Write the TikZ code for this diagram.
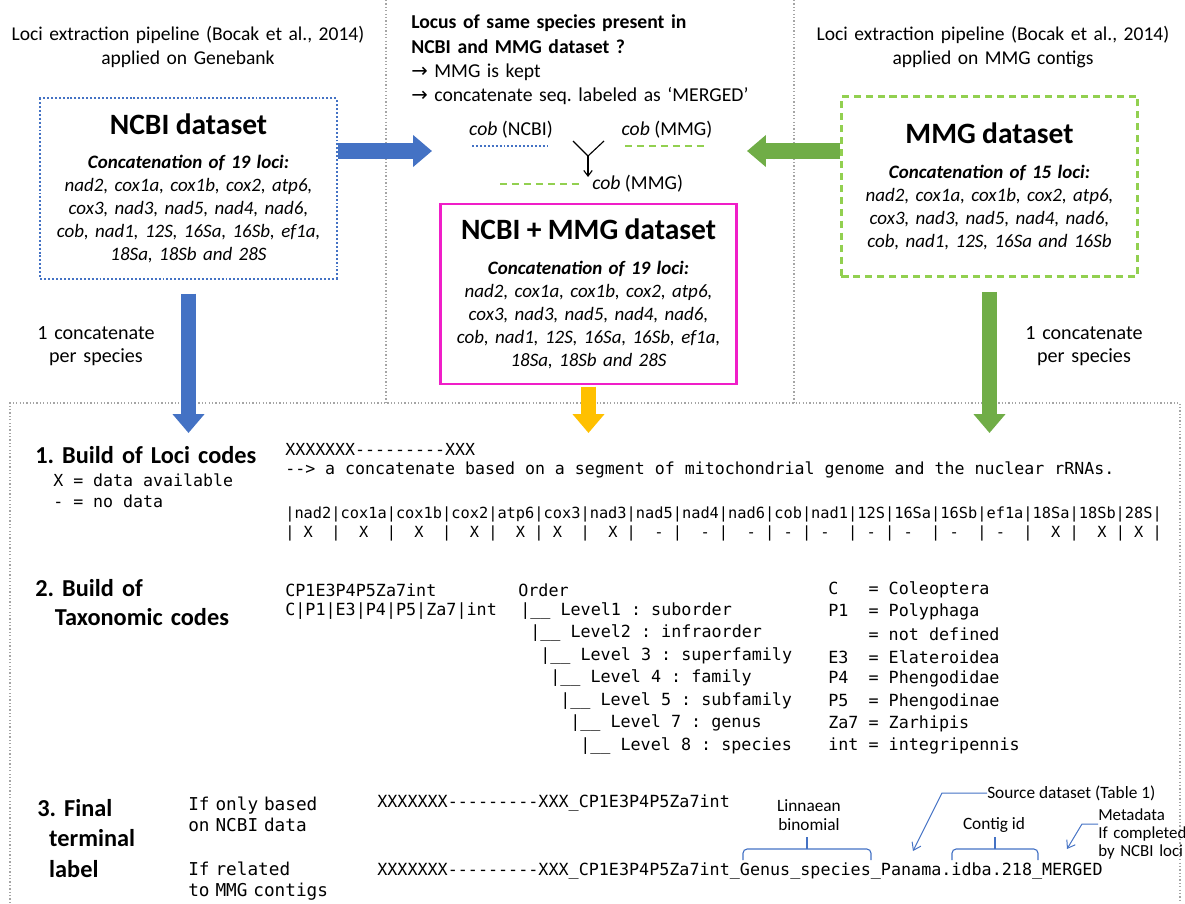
\documentclass[tikz,border=0pt]{standalone}
\usepackage{fontspec}
\setmainfont{Carlito}
\setmonofont{DejaVu Sans Mono}
\newfontfamily\arrowfont{DejaVu Sans}
\usetikzlibrary{arrows.meta,positioning}
\frenchspacing
\definecolor{ncbiblue}{RGB}{68,114,196}
\definecolor{mmggreen}{RGB}{112,173,71}
\definecolor{lightgreen}{RGB}{146,208,80}
\definecolor{mergepink}{RGB}{240,30,200}
\definecolor{mergeyellow}{RGB}{255,192,0}
\definecolor{sepgray}{RGB}{165,165,165}
\tikzstyle{caption}=[align=center,inner sep=0pt,text width=9.5cm,font=\fontsize{13.9}{17}\selectfont]
\tikzstyle{perspecies}=[align=center,inner sep=0pt,text width=3.5cm,font=\fontsize{14.3}{16.4}\selectfont]
\tikzstyle{cob}=[inner sep=0pt,font=\fontsize{14}{17}\selectfont]
\tikzstyle{dataset}=[align=center,inner sep=0pt,text width=7.3cm,minimum width=7.4cm,minimum height=4.5cm,font=\fontsize{13.5}{16.4}\selectfont\itshape]
\tikzstyle{ncbibox}=[dataset,draw=ncbiblue,line width=1.4pt,dash pattern=on 1.4pt off 1.4pt]
\tikzstyle{mmgbox}=[dataset,draw=lightgreen,line width=1.7pt,dash pattern=on 5pt off 3.5pt]
\tikzstyle{mergedbox}=[dataset,draw=mergepink,line width=1.7pt]
\tikzstyle{bigarrow}=[line width=11pt,-{Triangle[length=13.5pt,width=22pt]}]
\tikzstyle{separator}=[draw=sepgray,line width=0.9pt,dash pattern=on 0.9pt off 1.5pt]
\tikzstyle{heading}=[anchor=west,align=left,inner sep=0pt,text width=6cm,font=\bfseries\fontsize{17.3}{20.6}\selectfont]
\tikzstyle{mono}=[anchor=west,inner sep=0pt,font=\ttfamily\fontsize{11.8}{15}\selectfont]
\tikzstyle{table}=[mono,font=\ttfamily\fontsize{10.9}{13}\selectfont]
\tikzstyle{taxo}=[mono,font=\ttfamily\fontsize{11.9}{15}\selectfont]
\tikzstyle{final}=[mono,font=\ttfamily\fontsize{11.9}{15}\selectfont]
\tikzstyle{condition}=[mono,align=left,text width=4cm,font=\ttfamily\fontsize{12.6}{15.4}\selectfont]
\tikzstyle{note}=[inner sep=0pt,align=center,font=\fontsize{12.3}{13.5}\selectfont]
\tikzstyle{bracket}=[draw=ncbiblue,line width=0.8pt,rounded corners=3pt]
\tikzstyle{pointer}=[draw=ncbiblue,line width=0.7pt,-{Straight Barb[length=5pt,width=7pt]}]

\begin{document}
\begin{tikzpicture}[x=0.025cm,y=-0.025cm]
    \useasboundingbox (0,0) rectangle (1185,903);

    % Dotted frames between the parts
    \draw[separator] (386,0) -- (386,403);
    \draw[separator] (794,0) -- (794,403);
    \draw[separator] (10,903) -- (10,403) -- (1180,403) -- (1180,903);

    % The pipelines and the datasets
    \node[caption] (capncbi) at (188,47) {Loci extraction pipeline (Bocak et al., 2014)\\applied on Genebank};
    \node[caption] (capmmg) at (993,47) {Loci extraction pipeline (Bocak et al., 2014)\\applied on MMG contigs};
    \node[ncbibox] (ncbi) at (188.5,188.5) {{\upshape\bfseries\fontsize{21}{24}\selectfont NCBI dataset}\\[8pt]
        {\bfseries Concatenation of 19 loci:}\\nad2, cox1a, cox1b, cox2, atp6,\\cox3, nad3, nad5, nad4, nad6,\\
        cob, nad1, 12S, 16Sa, 16Sb, ef1a,\\18Sa, 18Sb and 28S};
    \node[mmgbox] (mmg) at (989.5,186.5) {{\upshape\bfseries\fontsize{21}{24}\selectfont MMG dataset}\\[8pt]
        {\bfseries Concatenation of 15 loci:}\\nad2, cox1a, cox1b, cox2, atp6,\\cox3, nad3, nad5, nad4, nad6,\\
        cob, nad1, 12S, 16Sa and 16Sb};
    \node[mergedbox] (merged) at (588.5,294) {{\upshape\bfseries\fontsize{21}{24}\selectfont NCBI + MMG dataset}\\[8pt]
        {\bfseries Concatenation of 19 loci:}\\nad2, cox1a, cox1b, cox2, atp6,\\cox3, nad3, nad5, nad4, nad6,\\
        cob, nad1, 12S, 16Sa, 16Sb, ef1a,\\18Sa, 18Sb and 28S};

    % Merging rule
    \node[caption,align=left,anchor=west,font=\fontsize{14}{17.3}\selectfont] (rule) at (411,60) {\textbf{Locus of same species present in}\\
        \textbf{NCBI and MMG dataset ?}\\{\arrowfont →} MMG is kept\\{\arrowfont →} concatenate seq. labeled as `MERGED'};
    \node[cob] (cobncbi) at (511,130) {\textit{cob} (NCBI)};
    \node[cob] (cobmmg) at (667,130) {\textit{cob} (MMG)};
    \node[cob,anchor=west] (cobkept) at (592,184) {\textit{cob} (MMG)};
    \coordinate (ncbiseqa) at (472,146);
    \coordinate (ncbiseqb) at (548,146);
    \coordinate (mmgseqa) at (625,146);
    \coordinate (mmgseqb) at (705,146);
    \coordinate (keptseqa) at (500,184);
    \coordinate (keptseqb) at (580,184);
    \draw[ncbiblue,line width=1.4pt,dash pattern=on 1.4pt off 1.4pt] (ncbiseqa) -- (ncbiseqb);
    \draw[lightgreen,line width=1.7pt,dash pattern=on 5pt off 3.5pt] (mmgseqa) -- (mmgseqb);
    \draw[lightgreen,line width=1.7pt,dash pattern=on 5pt off 3.5pt] (keptseqa) -- (keptseqb);
    \coordinate (forkl) at (573,141);
    \coordinate (forkr) at (604,141);
    \coordinate (forkc) at (588,156);
    \coordinate (forkd) at (588,177);
    \draw[line width=0.8pt] (forkl) -- (forkc) -- (forkr);
    \draw[line width=0.8pt,-{Straight Barb[length=4pt,width=6pt]}] (forkc) -- (forkd);

    % Block arrows
    \coordinate (ncbitip) at (432,151);
    \coordinate (mmgtip) at (747,151);
    \coordinate (ncbiend) at (188.5,433);
    \coordinate (mmgend) at (989.5,433);
    \coordinate (mergedend) at (588.5,433);
    \draw[bigarrow,ncbiblue] (ncbi.east |- ncbitip) -- (ncbitip);
    \draw[bigarrow,mmggreen] (mmg.west |- mmgtip) -- (mmgtip);
    \draw[bigarrow,ncbiblue,shorten <=10pt] (ncbi) -- (ncbiend);
    \draw[bigarrow,mmggreen,shorten <=10pt] (mmg) -- (mmgend);
    \draw[bigarrow,mergeyellow,shorten <=1pt] (merged) -- (mergedend);
    \node[perspecies] (perncbi) at (96,346) {1 concatenate\\per species};
    \node[perspecies] (permmg) at (1084,346) {1 concatenate\\per species};

    % 1. Loci codes
    \node[heading] (step1) at (35,455) {1. Build of Loci codes};
    \node[mono] (keyx) at (53,480) {X = data available};
    \node[mono] (keydash) at (53,501) {- = no data};
    \node[mono] (locicode) at (285,449) {XXXXXXX---------XXX};
    \node[mono] (locinote) at (285,470) {--> a concatenate based on a segment of mitochondrial genome and the nuclear rRNAs.};
    \node[table] (locihead) at (285,514) {|nad2|cox1a|cox1b|cox2|atp6|cox3|nad3|nad5|nad4|nad6|cob|nad1|12S|16Sa|16Sb|ef1a|18Sa|18Sb|28S|};
    \node[table] (locirow) at (285,533) {|~X~~|~~X~~|~~X~~|~~X~|~~X~|~X~~|~~X~|~~-~|~~-~|~~-~|~-~|~-~~|~-~|~-~~|~-~~|~-~~|~~X~|~~X~|~X~|};

    % 2. Taxonomic codes
    \node[heading] (step2) at (35,602.5) {2. Build of\\\hspace*{14pt}Taxonomic codes};
    \node[taxo] (taxcode) at (285,590) {CP1E3P4P5Za7int};
    \node[taxo] (taxsplit) at (285,611) {C|P1|E3|P4|P5|Za7|int};
    \node[taxo] (order) at (518,590) {Order};
    \foreach \lvl [count=\i] in {Level1 : suborder, Level2 : infraorder, Level 3 : superfamily, Level 4 : family,
        Level 5 : subfamily, Level 7 : genus, Level 8 : species}
        \node[taxo] (level\i) at (510+10*\i,588.5+22.5*\i) {|\_\_ \lvl};
    \foreach \code [count=\i] in {C~~~= Coleoptera, P1~~= Polyphaga, ~~~~= not defined, E3~~= Elateroidea,
        P4~~= Phengodidae, P5~~= Phengodinae, Za7 = Zarhipis, int = integripennis}
        \node[taxo] (code\i) at (828,567.7+22.3*\i) {\code};

    % 3. Final label
    \node[heading,font=\bfseries\fontsize{17.3}{21.7}\selectfont] (step3) at (37,838.5) {3. Final\\\hspace*{8.5pt}terminal\\\hspace*{8.5pt}label};
    \node[condition] (ifncbi) at (188,814.5) {If only based\\on NCBI data};
    \node[condition] (ifmmg) at (188,881) {If related\\to MMG contigs};
    \node[final] (labelncbi) at (377,803) {XXXXXXX---------XXX\_CP1E3P4P5Za7int};
    \node[final] (labelmmg) at (377,871) {XXXXXXX---------XXX\_CP1E3P4P5Za7int\_Genus\_species\_Panama.idba.218\_MERGED};

    % Parts of the label
    \node[note,text width=2cm] (linnaean) at (809,815.5) {Linnaean\\binomial};
    \node[note] (contig) at (994,825) {Contig id};
    \node[note,anchor=west] (source) at (987,793) {Source dataset (Table 1)};
    \node[note,align=left,anchor=west,text width=2.5cm,font=\fontsize{12}{12.8}\selectfont] (meta) at (1098,834) {Metadata\\If completed\\by NCBI loci};
    \draw[bracket] (743,860) -- (743,849) -- (871,849) -- (871,860);
    \draw[bracket] (807,849) -- (807,837);
    \draw[bracket] (952,860) -- (952,849) -- (1038,849) -- (1038,860);
    \draw[bracket] (995,849) -- (995,837);
    \coordinate (srcbend) at (942,793);
    \coordinate (srctip) at (913,851);
    \draw[pointer] (source.west) -- (srcbend) -- (srctip);
    \coordinate (metabend) at (1082,824);
    \coordinate (metatip) at (1067,849);
    \draw[pointer] (meta.west |- metabend) -- (metabend) -- (metatip);
\end{tikzpicture}
\end{document}
